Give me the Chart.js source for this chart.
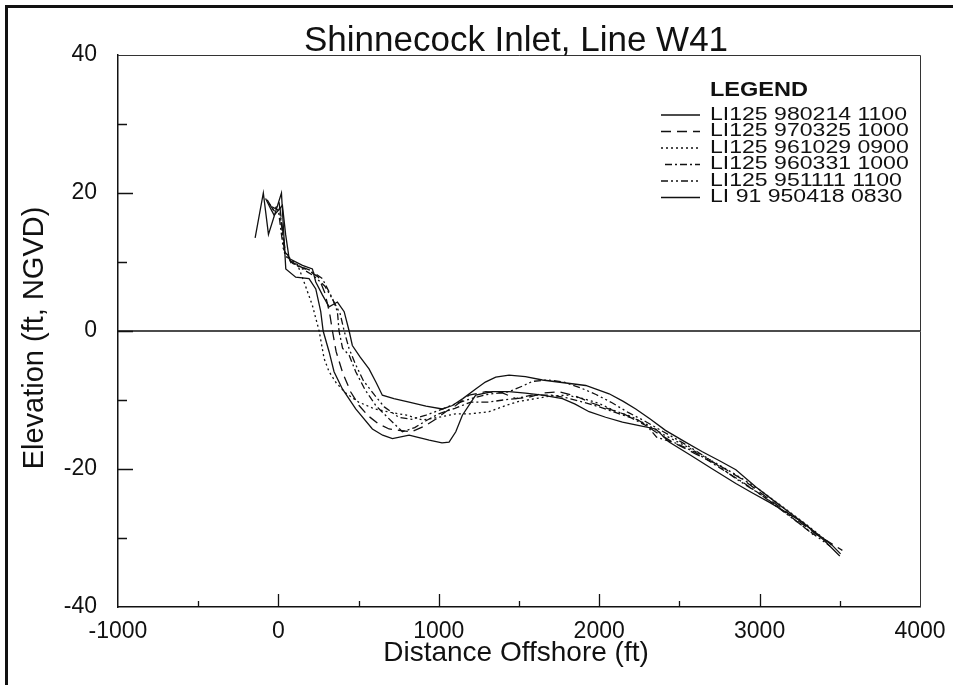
<!DOCTYPE html>
<html>
<head>
<meta charset="utf-8">
<title>Shinnecock Inlet, Line W41</title>
<script src="https://cdn.jsdelivr.net/npm/chart.js@4.4.1/dist/chart.umd.min.js"></script>
<style>
  html, body { margin: 0; padding: 0; background: #fff; }
  #grafico { display: block; }
</style>
</head>
<body>
<canvas id="grafico" width="953" height="685"></canvas>
<script>
// perfis (distancia em ft, elevacao em ft NGVD)
const rotulos = ['LI125 980214 1100', 'LI125 970325 1000', 'LI125 961029 0900',
                 'LI125 960331 1000', 'LI125 951111 1100', 'LI 91 950418 0830']

const dist980214 = [-80, -50, -27, 0, 25, 45, 67, 150, 212, 233, 275, 316, 368, 410, 441, 461, 510, 565, 610, 648,
  720, 815, 920, 1022, 1085, 1150, 1230, 1290, 1355, 1438, 1540, 1646, 1780, 1916, 2062, 2150, 2228, 2320, 2413,
  2530, 2643, 2750, 2852, 2977, 3100, 3226, 3371, 3450, 3505]
const elev980214 = [19.2, 17.8, 16.8, 17.5, 18.2, 14, 10.5, 9.5, 9.0, 7.1, 5.2, 3.5, 4.2, 2.8, 0, -2.1, -3.8, -5.5, -7.5, -9.3,
  -9.8, -10.3, -10.9, -11.3, -10.8, -9.8, -8.4, -7.4, -6.7, -6.4, -6.6, -7.1, -7.5, -7.9, -9.1, -10.2, -11.3, -12.8, -14.4,
  -16.0, -17.5, -18.8, -20.1, -22.6, -24.8, -27, -29.6, -31.0, -32.3]

const dist970325 = [-60, -20, 10, 40, 80, 140, 200, 250, 290, 320, 337, 360, 400, 450, 503, 560, 620, 690, 752, 830,
  918, 980, 1043, 1106, 1189, 1293, 1400, 1480, 1560, 1650, 1750, 1850, 1950, 2050, 2150, 2250, 2350, 2450, 2600,
  2750, 2900, 3050, 3200, 3350, 3516]
const elev970325 = [18.5, 17.2, 17.8, 12, 9.8, 9.3, 8.6, 7.8, 5.5, 2.5, 0, -3, -6, -8.8, -10.8, -12.3, -13.4, -14.2, -14.4, -14.6,
  -13.7, -12.8, -11.7, -10.8, -9.3, -8.8, -9.0, -9.8, -9.6, -9.0, -8.8, -9.4, -10.4, -11.2, -12.0, -13.0, -14.6, -16.0, -17.8,
  -19.5, -21.6, -24.2, -26.8, -29.4, -31.8]

const dist961029 = [10, 40, 80, 120, 160, 212, 254, 285, 316, 360, 420, 500, 600, 700, 800, 898, 1000, 1106, 1200, 1313,
  1417, 1500, 1604, 1700, 1800, 1900, 2000, 2100, 2200, 2300, 2400, 2550, 2700, 2850, 3000, 3150, 3300, 3450]
const elev961029 = [17, 11.5, 10.3, 9.6, 7.1, 3.7, 0, -4, -5.9, -7.5, -9.0, -10.3, -11.3, -11.8, -12.2, -12.9, -12.5, -12, -12, -11.7,
  -10.8, -10.2, -9.8, -9.4, -9.3, -9.8, -10.5, -11.6, -12.4, -13.6, -15.0, -16.8, -18.8, -20.8, -23.0, -25.6, -28.2, -31.0]

const dist960331 = [-40, 0, 30, 70, 130, 200, 274, 337, 368, 378, 400, 441, 482, 540, 607, 680, 773, 850, 920, 1000,
  1100, 1200, 1313, 1400, 1480, 1580, 1700, 1800, 1900, 2000, 2100, 2200, 2300, 2358, 2472, 2600, 2750, 2900, 3050,
  3200, 3350]
const elev960331 = [18, 17.5, 12, 10.2, 9.4, 8.8, 7.6, 4.7, 2.8, 0, -2.5, -3.5, -5.9, -8.5, -10.8, -12.5, -14.6, -14.0, -13.0, -12.0,
  -11.2, -10.3, -10.3, -10.0, -9.8, -9.3, -9.3, -9.7, -10.3, -11.0, -11.8, -12.6, -13.8, -15.4, -16.2, -17.6, -19.8, -22.0, -24.4,
  -27.0, -29.8]

const dist951111 = [-70, -30, 5, 40, 90, 150, 220, 290, 340, 385, 410, 440, 480, 530, 600, 660, 750, 830, 920, 1000,
  1100, 1200, 1300, 1438, 1520, 1584, 1680, 1780, 1880, 1980, 2080, 2180, 2280, 2400, 2550, 2700, 2852, 3000, 3150,
  3300, 3440]
const elev951111 = [19, 17.5, 18.5, 11, 9.8, 9.0, 8.0, 6.5, 4.5, 2.5, 0, -2.5, -4.8, -7.2, -9.3, -11.0, -12.5, -12.8, -12.2, -11.5,
  -10.6, -9.8, -9.2, -8.8, -8.0, -7.3, -7.1, -7.4, -8.2, -9.2, -10.4, -11.8, -13.0, -14.6, -16.6, -18.8, -21.4, -23.6, -26.2,
  -28.8, -31.2]

const dist950418 = [-145, -94, -62, 19, 46, 108, 191, 233, 264, 279, 316, 347, 399, 482, 586, 650, 711, 815, 940, 1020,
  1064, 1106, 1147, 1230, 1334, 1438, 1540, 1646, 1771, 1850, 1937, 2040, 2145, 2250, 2353, 2436, 2570, 2706, 2852,
  2950, 3059, 3160, 3267, 3400, 3500]
const elev950418 = [13.5, 20, 14, 20, 9, 7.8, 7.6, 6.1, 2.8, 0, -3, -5.9, -8.4, -11.3, -14.2, -15.1, -15.6, -15.1, -15.8, -16.2,
  -16.1, -14.6, -12.2, -9.3, -8.8, -8.8, -9.0, -9.3, -9.8, -10.6, -11.7, -12.5, -13.2, -13.7, -14.2, -16.1, -18.0, -20, -22.1,
  -23.4, -24.8, -26.2, -27.7, -30.3, -32.6]

const distancias = [dist980214, dist970325, dist961029, dist960331, dist951111, dist950418]
const elevacoes = [elev980214, elev970325, elev961029, elev960331, elev951111, elev950418]
const tracejados = [[], [10, 6], [2, 3], [7, 3, 2, 3], [7, 3, 2, 3, 2, 3], []]

const fonte = '"Liberation Sans", Arial, sans-serif'

function juntaPontos(xs, ys){
  return xs.map((x, i) => ({x: x, y: ys[i]}))
}

// texto esticado na horizontal, como na figura original
function textoLargo(ctx, texto, x, y, tamanho, largura, peso){
  ctx.save()
  ctx.font = (peso || '') + ' ' + tamanho + 'px ' + fonte
  const w = ctx.measureText(texto).width
  ctx.translate(x, y)
  ctx.scale(largura / w, 1)
  ctx.fillText(texto, 0, 0)
  ctx.restore()
  return largura / w
}

const moldura = {
  id: 'moldura',
  beforeDatasetsDraw(chart){
    const ctx = chart.ctx
    const a = chart.chartArea
    const y0 = chart.scales.y.getPixelForValue(0)
    ctx.save()
    ctx.strokeStyle = '#111'
    ctx.lineWidth = 1.5
    ctx.beginPath()
    ctx.moveTo(a.left, y0)
    ctx.lineTo(a.right, y0)
    ctx.stroke()
    ctx.restore()
  },
  afterDraw(chart){
    const ctx = chart.ctx
    const a = chart.chartArea
    const sx = chart.scales.x
    const sy = chart.scales.y
    ctx.save()

    // borda externa da figura
    ctx.strokeStyle = '#111'
    ctx.lineWidth = 3
    ctx.beginPath()
    ctx.moveTo(6.5, 685)
    ctx.lineTo(6.5, 6.5)
    ctx.lineTo(953, 6.5)
    ctx.stroke()

    // topo e lado direito do grafico
    ctx.lineWidth = 1
    ctx.strokeStyle = '#333'
    ctx.beginPath()
    ctx.moveTo(a.left, a.top + 0.5)
    ctx.lineTo(a.right + 0.5, a.top + 0.5)
    ctx.lineTo(a.right + 0.5, a.bottom)
    ctx.stroke()

    // marcas para dentro
    ctx.lineWidth = 1.3
    ctx.strokeStyle = '#111'
    ctx.beginPath()
    for (let v = -500; v < 4000; v += 500){
      const px = Math.round(sx.getPixelForValue(v)) + 0.5
      const t = v % 1000 === 0 ? 13 : 6
      ctx.moveTo(px, a.bottom)
      ctx.lineTo(px, a.bottom - t)
    }
    for (let v = -30; v < 40; v += 10){
      const py = Math.round(sy.getPixelForValue(v)) + 0.5
      const t = v % 20 === 0 ? 15 : 9
      ctx.moveTo(a.left, py)
      ctx.lineTo(a.left + t, py)
    }
    ctx.stroke()

    // titulos
    ctx.fillStyle = '#111'
    ctx.textAlign = 'center'
    ctx.textBaseline = 'alphabetic'
    ctx.font = '35px ' + fonte
    ctx.fillText('Shinnecock Inlet, Line W41', 516, 51)
    ctx.font = '28px ' + fonte
    ctx.fillText('Distance Offshore (ft)', 516, 661)
    ctx.save()
    ctx.translate(43, 338)
    ctx.rotate(-Math.PI / 2)
    ctx.font = '29px ' + fonte
    ctx.fillText('Elevation (ft, NGVD)', 0, 0)
    ctx.restore()

    // legenda
    ctx.textAlign = 'left'
    ctx.textBaseline = 'middle'
    textoLargo(ctx, 'LEGEND', 710, 90, 20, 98, 'bold')
    let escala = 1
    rotulos.forEach((rotulo, i) => {
      const yLinha = 115 + i * 16.5
      ctx.save()
      ctx.lineWidth = 1.3
      ctx.strokeStyle = '#111'
      ctx.setLineDash(tracejados[i])
      ctx.beginPath()
      ctx.moveTo(i === 3 ? 665 : 661, yLinha)
      ctx.lineTo(700, yLinha)
      ctx.stroke()
      ctx.restore()
      ctx.save()
      ctx.font = '18px ' + fonte
      if (i === 0) escala = 197 / ctx.measureText(rotulo).width
      ctx.translate(710, yLinha)
      ctx.scale(escala, 1)
      ctx.fillText(rotulo, 0, 0)
      ctx.restore()
    })
    ctx.restore()
  }
}

const conjuntos = rotulos.map((rotulo, i) => ({
  label: rotulo,
  data: juntaPontos(distancias[i], elevacoes[i]),
  showLine: true,
  borderColor: '#111',
  borderWidth: 1.3,
  borderDash: tracejados[i],
  pointRadius: 0,
  tension: 0,
  fill: false
}))

const grafico = new Chart(document.getElementById('grafico'), {
  type: 'scatter',
  data: { datasets: conjuntos },
  options: {
    responsive: false,
    animation: false,
    layout: { padding: { top: 55, right: 33, left: 0, bottom: 0 } },
    plugins: {
      legend: { display: false },
      title: { display: false },
      tooltip: { enabled: false }
    },
    scales: {
      x: {
        type: 'linear',
        min: -1000,
        max: 4000,
        afterFit: (escala) => {
          escala.height = 78
          escala.paddingLeft = 0
          escala.paddingRight = 0
        },
        ticks: {
          stepSize: 1000,
          color: '#111',
          padding: 11,
          maxRotation: 0,
          callback: (valor) => String(valor),
          font: { family: fonte, size: 23 }
        },
        grid: { display: true, drawOnChartArea: false, drawTicks: false },
        border: { display: true, color: '#111', width: 1.5 }
      },
      y: {
        min: -40,
        max: 40,
        afterFit: (escala) => {
          escala.width = 118
          escala.paddingTop = 0
          escala.paddingBottom = 0
        },
        ticks: {
          stepSize: 20,
          color: '#111',
          padding: 21,
          callback: (valor) => String(valor),
          font: { family: fonte, size: 23 }
        },
        grid: { display: true, drawOnChartArea: false, drawTicks: false },
        border: { display: true, color: '#111', width: 1.5 }
      }
    }
  },
  plugins: [moldura]
})
</script>
</body>
</html>
